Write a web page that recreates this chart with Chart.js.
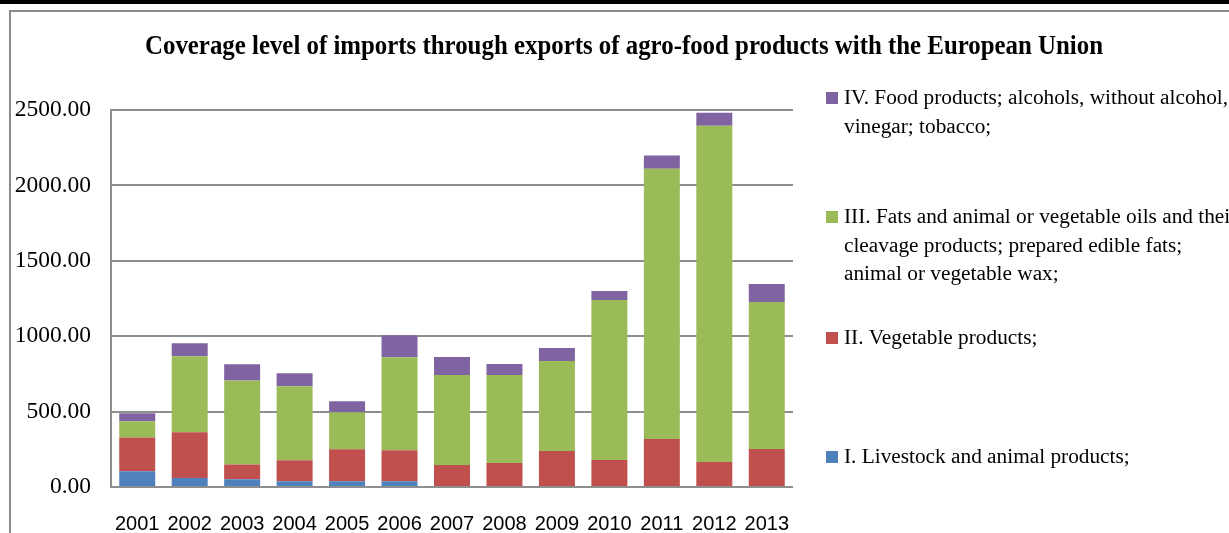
<!DOCTYPE html>
<html>
<head>
<meta charset="utf-8">
<script src="https://cdn.jsdelivr.net/npm/chart.js@4/dist/chart.umd.min.js"></script>
<style>
html,body{margin:0;padding:0;background:#fff;overflow:hidden;}
canvas{display:block;}
</style>
</head>
<body>
<canvas id="c" width="1229" height="533"></canvas>
<script>
const years = ['2001','2002','2003','2004','2005','2006','2007','2008','2009','2010','2011','2012','2013'];
const livestock = [104, 60, 51, 38, 38, 38, 0, 0, 0, 0, 0, 0, 0];
const vegetable = [225, 303, 99, 139, 212, 205, 146, 159, 239, 179, 318, 166, 252];
const fats = [107, 504, 557, 491, 245, 617, 597, 584, 596, 1061, 1793, 2230, 975];
const food = [53, 86, 107, 86, 73, 146, 119, 72, 86, 60, 87, 86, 119];
const yTicks = [0, 500, 1000, 1500, 2000, 2500];
const titleText = 'Coverage level of imports through exports of agro-food products with the European Union';
const legendItems = [
  {lines:['IV. Food products; alcohols, without alcohol,','vinegar; tobacco;'], color:'#8064A2', ys:[98,127]},
  {lines:['III. Fats and animal or vegetable oils and their','cleavage products; prepared edible fats;','animal or vegetable wax;'], color:'#9BBB59', ys:[217,246,274]},
  {lines:['II. Vegetable products;'], color:'#C0504D', ys:[338]},
  {lines:['I. Livestock and animal products;'], color:'#4F81BD', ys:[457]}
];

const decor = {
  id:'decor',
  beforeDraw(chart){
    const ctx = chart.ctx;
    ctx.save();
    ctx.fillStyle='#fff';
    ctx.fillRect(0,0,chart.width,chart.height);
    ctx.fillStyle='#000';
    ctx.fillRect(0,0,chart.width,4);
    ctx.fillStyle='#8a8a8a';
    ctx.fillRect(9,10,chart.width-9,2);
    ctx.fillRect(9,10,2,chart.height-10);
    ctx.restore();
  },
  afterDraw(chart){
    const ctx = chart.ctx;
    ctx.save();
    ctx.fillStyle='#000';
    ctx.font='bold 27px "Liberation Serif", "Times New Roman", serif';
    ctx.textBaseline='middle';
    ctx.textAlign='center';
    const w = ctx.measureText(titleText).width;
    const target = 958;
    ctx.translate(624,47);
    ctx.scale(target/w,1);
    ctx.fillText(titleText,0,0);
    ctx.restore();
    ctx.save();
    ctx.font='21.3px "Liberation Serif", "Times New Roman", serif';
    ctx.textBaseline='middle';
    ctx.textAlign='left';
    legendItems.forEach(it=>{
      ctx.fillStyle=it.color;
      ctx.fillRect(826,it.ys[0]-6,12,12);
      ctx.fillStyle='#000';
      it.lines.forEach((l,i)=>ctx.fillText(l,844,it.ys[i]));
    });
    ctx.restore();
  }
};

new Chart(document.getElementById('c'), {
  type:'bar',
  data:{
    labels:years,
    datasets:[
      {label:'I. Livestock and animal products;', data:livestock, backgroundColor:'#4F81BD'},
      {label:'II. Vegetable products;', data:vegetable, backgroundColor:'#C0504D'},
      {label:'III. Fats and animal or vegetable oils and their cleavage products; prepared edible fats; animal or vegetable wax;', data:fats, backgroundColor:'#9BBB59'},
      {label:'IV. Food products; alcohols, without alcohol, vinegar; tobacco;', data:food, backgroundColor:'#8064A2'}
    ]
  },
  options:{
    responsive:false,
    animation:false,
    devicePixelRatio:1,
    categoryPercentage:1,
    barPercentage:0.686,
    layout:{padding:{left:0,right:436,top:110,bottom:0}},
    plugins:{legend:{display:false}, title:{display:false}, tooltip:{enabled:false}},
    scales:{
      x:{
        stacked:true,
        grid:{display:false, drawTicks:false},
        border:{display:false},
        ticks:{color:'#000', padding:25, font:{family:'"Liberation Sans", Arial, sans-serif', size:20}, maxRotation:0, autoSkip:false},
        afterFit(s){ s.height = 46; }
      },
      y:{
        stacked:true,
        min:0, max:2500,
        afterBuildTicks(s){ s.ticks = yTicks.map(v=>({value:v})); },
        grid:{color:'#8e8e8e', lineWidth:2, drawTicks:false},
        border:{display:true, color:'#8e8e8e', width:2},
        ticks:{color:'#000', padding:20, font:{family:'"Liberation Serif", "Times New Roman", serif', size:23.5}, callback:v=>Number(v).toFixed(2)},
        afterFit(s){ s.width = 111; }
      }
    }
  },
  plugins:[decor]
});
</script>
</body>
</html>
